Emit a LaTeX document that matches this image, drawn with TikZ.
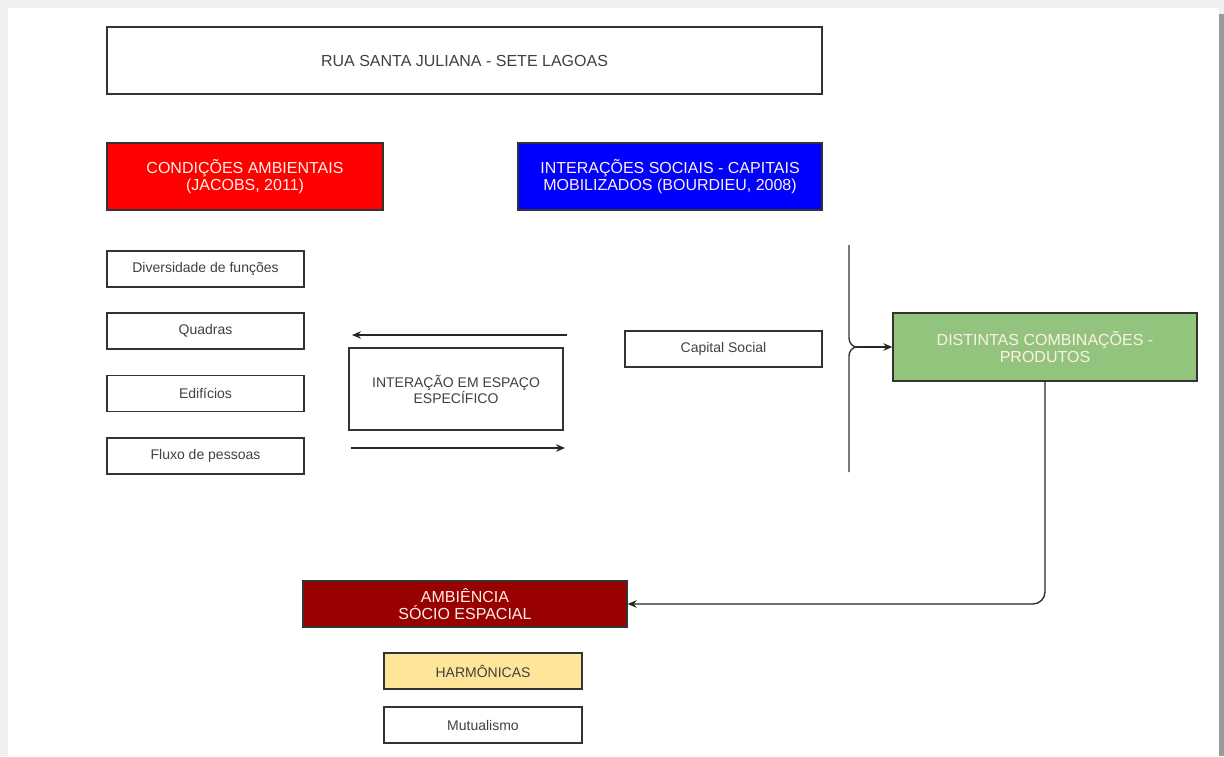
\documentclass[tikz,border=0pt]{standalone}
\usepackage{fontspec}
\setmainfont{Liberation Sans}
\usetikzlibrary{arrows.meta}
\definecolor{pagegray}{HTML}{F0F0F0}
\definecolor{edgegray}{HTML}{9A9A9A}
\definecolor{linecol}{HTML}{333333}
\definecolor{redbox}{HTML}{FF0000}
\definecolor{bluebox}{HTML}{0000FF}
\definecolor{greenbox}{HTML}{93C47D}
\definecolor{darkred}{HTML}{990000}
\definecolor{yellowbox}{HTML}{FFE599}
\definecolor{boxtext}{HTML}{FFF0E6}
\tikzset{
  box/.style={draw=linecol, line width=1.3pt, fill=white, inner sep=0pt, align=center,
    font=\fontsize{14}{15}\selectfont, text=black!75},
  cbox/.style={box, text=boxtext, font=\fontsize{16}{17}\selectfont},
  arr/.style={draw=black!85, line width=1.3pt, -{Stealth[length=9pt,width=7.5pt]}},
  plain/.style={draw=linecol, line width=1.4pt}
}
\begin{document}
\begin{tikzpicture}[x=1pt,y=-1pt]
\useasboundingbox (0,0) rectangle (1224,756);
\fill[pagegray] (0,0) rectangle (1224,756);
\fill[white] (8,8) rectangle (1219,756);
\fill[edgegray] (1219,14) rectangle (1224,756);

\node[box, font=\fontsize{16}{17}\selectfont, minimum width=715pt, minimum height=67pt] (title) at (464.5,60.5) {RUA SANTA JULIANA - SETE LAGOAS};
\node[cbox, fill=redbox, minimum width=276pt, minimum height=67pt] (cond) at (245,176.5) {CONDIÇÕES AMBIENTAIS\\(JACOBS, 2011)};
\node[cbox, fill=bluebox, minimum width=304pt, minimum height=67pt] (inter) at (670,176.5) {INTERAÇÕES SOCIAIS - CAPITAIS\\MOBILIZADOS (BOURDIEU, 2008)};

\node[box, minimum width=197pt, minimum height=36pt] (div) at (205.5,269) {Diversidade de funções};
\node[box, minimum width=197pt, minimum height=36pt] (quad) at (205.5,331) {Quadras};
\node[box, minimum width=197pt, minimum height=36pt] (edif) at (205.5,393.5) {Edifícios};
\node[box, minimum width=197pt, minimum height=36pt] (flux) at (205.5,456) {Fluxo de pessoas};

\node[box, minimum width=214pt, minimum height=82pt] (esp) at (456,389) {INTERAÇÃO EM ESPAÇO\\ESPECÍFICO};
\coordinate (la) at (567,335);
\coordinate (lb) at (352,335);
\coordinate (ra) at (351,448);
\coordinate (rb) at (565,448);
\draw[arr] (la) -- (lb);
\draw[arr] (ra) -- (rb);

\node[box, minimum width=197pt, minimum height=36pt] (cap) at (723.5,349) {Capital Social};

\coordinate (btop) at (849,245);
\coordinate (bbot) at (849,472);
\coordinate (btip) at (857,347);
\draw[plain] (btop) -- (849,338) to[out=-90,in=180] (btip);
\draw[plain] (btip) to[out=180,in=90] (849,356) -- (bbot);

\node[cbox, fill=greenbox, minimum width=304pt, minimum height=68pt] (dist) at (1045,347) {DISTINTAS COMBINAÇÕES -\\PRODUTOS};
\draw[arr] (btip) -- (dist.west);

\node[cbox, fill=darkred, minimum width=324pt, minimum height=46pt] (amb) at (465,604) {AMBIÊNCIA\\SÓCIO ESPACIAL};
\draw[arr, rounded corners=12pt] (dist.south) |- (amb.east);

\node[box, fill=yellowbox, minimum width=198pt, minimum height=36pt] (harm) at (483,671) {HARMÔNICAS};
\node[box, minimum width=198pt, minimum height=36pt] (mut) at (483,725) {Mutualismo};
\end{tikzpicture}
\end{document}
